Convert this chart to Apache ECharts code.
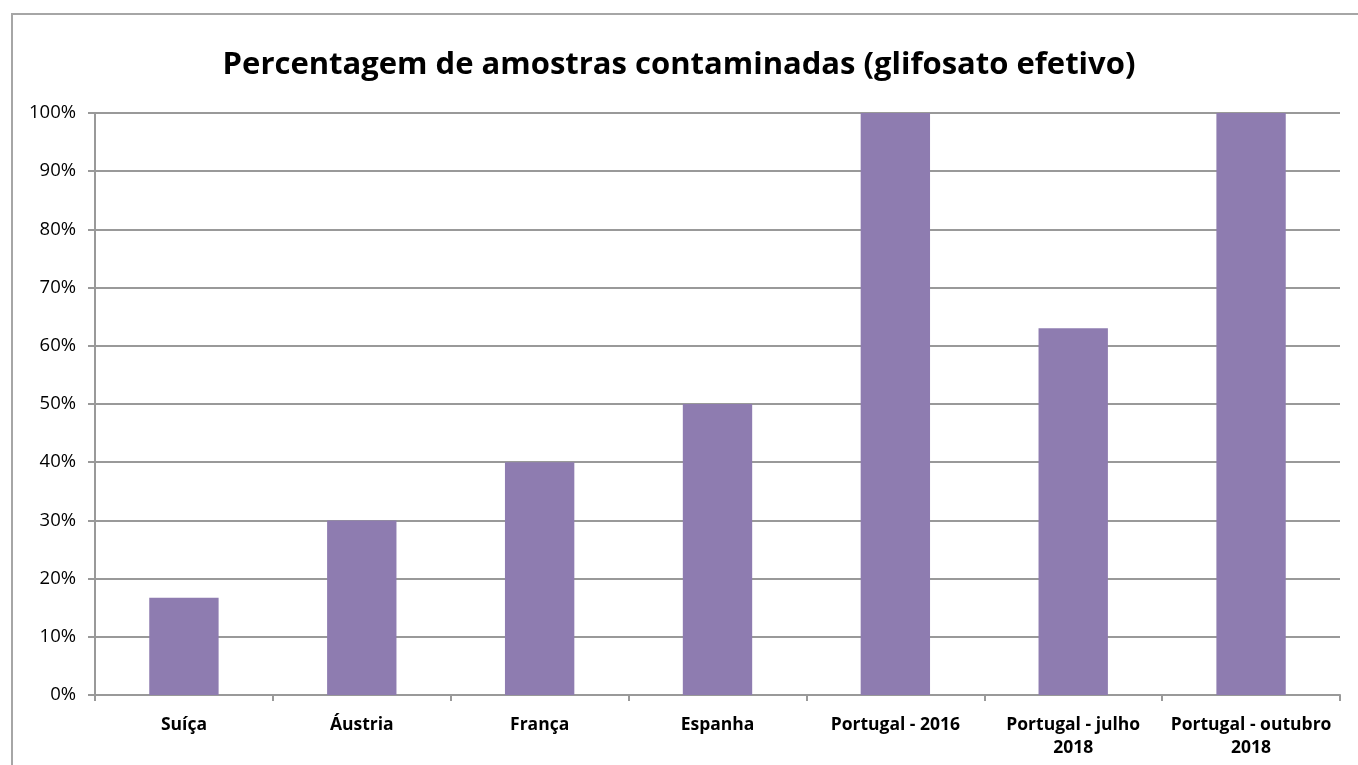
<!DOCTYPE html>
<html>
<head>
<meta charset="utf-8">
<script src="https://cdn.jsdelivr.net/npm/echarts@6/dist/echarts.min.js"></script>
<style>
  html, body { margin: 0; padding: 0; background: #fff; }
  #chart { width: 1358px; height: 765px; }
</style>
</head>
<body>
<div id="chart"></div>
<script>
// categorias e percentagens
const categorias = ['Suíça', 'Áustria', 'França', 'Espanha', 'Portugal - 2016', 'Portugal - julho\n2018', 'Portugal - outubro\n2018'];
const percentagens = [16.7, 30, 40, 50, 100, 63, 100];

const chart = echarts.init(document.getElementById('chart'));

const option = {
  animation: false,
  backgroundColor: '#fff',
  title: {
    text: 'Percentagem de amostras contaminadas (glifosato efetivo)',
    left: 'center',
    top: 45,
    textStyle: {
      fontFamily: 'Open Sans',
      fontWeight: 'bold',
      fontSize: 31,
      color: '#000'
    }
  },
  graphic: [
    {
      type: 'rect',
      shape: { x: 12, y: 14, width: 1400, height: 800 },
      style: { fill: 'none', stroke: '#a6a6a6', lineWidth: 2 },
      silent: true
    }
  ],
  grid: { left: 95, right: 18, top: 113, bottom: 70 },
  xAxis: {
    type: 'category',
    data: categorias,
    axisLine: { lineStyle: { color: '#999', width: 2 } },
    axisTick: { show: true, length: 6, lineStyle: { color: '#999', width: 2 } },
    axisLabel: {
      interval: 0,
      margin: 19,
      fontFamily: 'Open Sans',
      fontWeight: 'bold',
      fontSize: 17.5,
      color: '#000',
      lineHeight: 23
    }
  },
  yAxis: {
    type: 'value',
    min: 0,
    max: 100,
    interval: 10,
    axisLine: { show: true, lineStyle: { color: '#999', width: 2 } },
    axisTick: { show: true, length: 7, lineStyle: { color: '#999', width: 2 } },
    splitLine: { lineStyle: { color: '#999', width: 2 } },
    axisLabel: {
      formatter: '{value}%',
      margin: 19,
      fontFamily: 'Open Sans',
      fontSize: 18.5,
      color: '#000'
    }
  },
  series: [
    {
      type: 'bar',
      data: percentagens,
      barWidth: '39%',
      itemStyle: { color: '#8e7cb0' }
    }
  ]
};

chart.setOption(option);
</script>
</body>
</html>
